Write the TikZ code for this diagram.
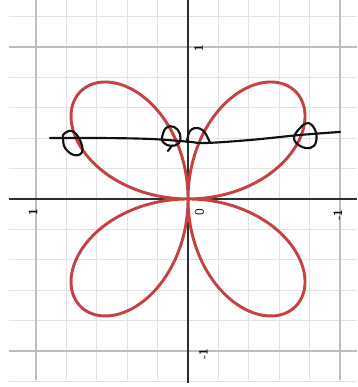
\documentclass[tikz,border=0pt]{standalone}
\usepackage{xcolor}
\usepackage{tikz}
\usetikzlibrary{calc}
\definecolor{roseRed}{HTML}{C64242}
\definecolor{gridPale}{HTML}{E2E2E2}
\definecolor{gridMajor}{HTML}{BDBDBD}
\definecolor{axisDark}{HTML}{2E2E2E}
\definecolor{penInk}{HTML}{111111}

\begin{document}
\begin{tikzpicture}[x=4cm,y=4cm,font=\sffamily]
  \tikzset{
    minorgrid/.style={draw=gridPale,line width=.7pt},
    majorgrid/.style={draw=gridMajor,line width=.8pt},
    axisline/.style={draw=axisDark,line width=1.5pt},
    ticklabel/.style={text=penInk,font=\sffamily\small\bfseries,rotate=90,inner sep=1pt},
    pen/.style={draw=penInk,line width=1.6pt,line cap=round,line join=round},
    petal/.style={draw=roseRed,line width=2.2pt}
  }
  \useasboundingbox (-1.237,-1.237) rectangle (1.112,1.309);
  \fill[white] (-1.237,-1.237) rectangle (1.112,1.309);
  % grid
  \foreach \gx in {-0.8,-0.6,-0.4,-0.2,0.2,0.4,0.6,0.8}
    \draw[minorgrid] (\gx,-1.19) -- (\gx,1.309);
  \foreach \gy in {-1.2,-0.8,-0.6,-0.4,-0.2,0.2,0.4,0.6,0.8,1.2}
    \draw[minorgrid] (-1.18,\gy) -- (1.112,\gy);
  \foreach \gx in {-1,1}
    \draw[majorgrid] (\gx,-1.19) -- (\gx,1.309);
  \foreach \gy in {-1,1}
    \draw[majorgrid] (-1.18,\gy) -- (1.112,\gy);
  % axes
  \draw[axisline] (0,-1.21) -- (0,1.309);
  \draw[axisline] (-1.18,0) -- (1.112,0);
  \node[ticklabel] (lblTop) at (0.07,0.99) {1};
  \node[ticklabel] (lblLeft) at (-1.02,-0.09) {1};
  \node[ticklabel] (lblRight) at (0.985,-0.105) {-1};
  \node[ticklabel] (lblBottom) at (0.1,-1.02) {-1};
  \node[ticklabel,font=\sffamily\normalsize] (lblOrigin) at (0.075,-0.085) {0};
  % rose
  \draw[petal] plot[domain=0:360,samples=361,smooth] ({sin(2*\x)*cos(\x)},{sin(2*\x)*sin(\x)});
  % hand drawn line and loops
  \draw[pen] plot[smooth,tension=.6] coordinates {(-0.908,0.401) (-0.579,0.401) (-0.25,0.395) (0.0,0.377) (0.112,0.368) (0.408,0.388) (0.737,0.421) (1.0,0.441)};
  \draw[pen] plot[smooth cycle,tension=.7] coordinates {(-0.816,0.428) (-0.763,0.447) (-0.711,0.388) (-0.697,0.309) (-0.75,0.289) (-0.809,0.336) (-0.822,0.401)};
  \draw[pen] plot[smooth cycle,tension=.7] coordinates {(-0.171,0.401) (-0.145,0.467) (-0.092,0.474) (-0.053,0.428) (-0.059,0.368) (-0.112,0.349) (-0.158,0.368)};
  \draw[pen] (-0.105,0.352) -- (-0.132,0.316);
  \draw[pen] plot[smooth,tension=.7] coordinates {(-0.007,0.375) (0.013,0.447) (0.066,0.467) (0.112,0.434) (0.145,0.368)};
  \draw[pen] plot[smooth cycle,tension=.7] coordinates {(0.737,0.467) (0.789,0.5) (0.836,0.454) (0.842,0.375) (0.803,0.336) (0.737,0.349) (0.697,0.401)};
\end{tikzpicture}
\end{document}
